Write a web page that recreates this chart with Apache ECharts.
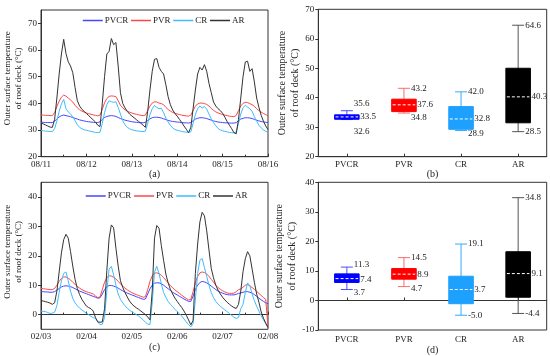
<!DOCTYPE html>
<html><head><meta charset="utf-8">
<script src="https://cdn.jsdelivr.net/npm/echarts@6/dist/echarts.min.js"></script>
<style>html,body{margin:0;padding:0;background:#fff}#c{width:550px;height:356px}</style>
</head><body><div id="c"></div>
<script>
// ---------------- DATA ----------------
const days = [
 0,0.05,0.1,0.15,0.2,0.25,0.3,0.35,0.4,0.45,0.5,0.55,0.6,0.65,0.7,0.75,0.8,0.85,0.9,0.95,
 1,1.05,1.1,1.15,1.2,1.25,1.3,1.35,1.4,1.45,1.5,1.55,1.6,1.65,1.7,1.75,1.8,1.85,1.9,1.95,
 2,2.05,2.1,2.15,2.2,2.25,2.3,2.35,2.4,2.45,2.5,2.55,2.6,2.65,2.7,2.75,2.8,2.85,2.9,2.95,
 3,3.05,3.1,3.15,3.2,3.25,3.3,3.35,3.4,3.45,3.5,3.55,3.6,3.65,3.7,3.75,3.8,3.85,3.9,3.95,
 4,4.05,4.1,4.15,4.2,4.25,4.3,4.35,4.4,4.45,4.5,4.55,4.6,4.65,4.7,4.75,4.8,4.85,4.9,4.95,5];

const xTickLabelsA = ['08/11','08/12','08/13','08/14','08/15','08/16'];
const xTickLabelsC = ['02/03','02/04','02/05','02/06','02/07','02/08'];
const yTicksA = [20,30,40,50,60,70];
const yTicksC = [0,10,20,30,40];
const seriesNames = ['PVCR','PVR','CR','AR'];
const boxCategories = ['PVCR','PVR','CR','AR'];

// (a) summer, outer surface temperature (°C)
const summerPVCR = [
 32.9,32.9,32.8,32.8,32.8,32.8,33.3,34.2,34.9,35.4,35.6,35.4,35.2,35.0,34.7,34.4,34.1,33.8,33.6,33.4,
 33.2,33.1,33.0,32.9,32.8,32.8,33.1,34.0,34.7,35.1,35.3,35.4,35.3,35.1,34.7,34.3,34.0,33.7,33.5,33.3,
 33.1,33.0,32.9,32.8,32.8,32.7,32.9,33.6,34.2,34.6,34.8,34.8,34.7,34.5,34.2,33.9,33.6,33.4,33.2,33.1,
 33.0,32.9,32.8,32.7,32.7,32.6,32.8,33.5,34.1,34.4,34.6,34.6,34.5,34.3,34.0,33.7,33.4,33.2,33.0,32.9,
 32.8,32.7,32.7,32.6,32.6,32.6,32.8,33.5,34.1,34.4,34.6,34.6,34.5,34.3,34.0,33.7,33.4,33.2,33.0,32.9,32.8];
const summerPVR = [
 35.6,35.6,35.5,35.5,35.4,35.4,36.5,38.8,40.8,42.3,43.1,42.7,42.0,41.3,40.5,39.3,38.3,37.6,37.1,36.7,
 36.4,36.1,35.9,35.7,35.5,35.3,35.6,37.8,40.2,41.8,42.6,42.8,42.7,42.5,41.0,39.3,38.3,37.6,37.1,36.7,
 36.4,36.1,35.9,35.7,35.5,35.4,35.6,37.3,39.0,40.1,40.6,40.5,40.1,39.9,39.5,38.5,37.7,37.1,36.6,36.3,
 36.0,35.8,35.6,35.4,35.3,35.2,35.6,37.3,38.9,39.8,40.1,40.1,39.9,39.6,39.0,38.1,37.4,36.8,36.4,36.1,
 35.8,35.6,35.4,35.2,35.1,35.0,35.5,37.3,39.0,40.0,40.4,40.3,39.9,39.5,38.9,38.0,37.3,36.7,36.2,35.8,35.3];
const summerCR = [
 29.8,29.7,29.6,29.5,29.5,29.4,30.5,33.5,37.0,39.8,41.5,38.0,36.8,36.0,35.0,33.5,32.0,31.0,30.5,30.1,
 29.9,29.7,29.5,29.3,29.1,29.0,29.2,32.5,36.5,39.5,41.0,40.6,40.4,40.6,38.5,36.0,33.5,32.0,31.0,30.5,
 30.1,29.9,29.7,29.6,29.5,29.4,29.6,32.5,35.8,38.0,39.2,38.5,38.0,38.2,36.5,34.5,33.0,31.8,30.8,30.2,
 29.9,29.7,29.5,29.3,29.2,29.1,29.3,32.5,35.8,38.0,39.0,38.2,38.8,37.8,36.0,34.2,32.8,31.6,30.6,30.0,
 29.7,29.5,29.3,29.1,29.0,28.9,29.3,32.5,36.0,38.3,39.3,38.6,38.0,37.0,35.0,33.3,31.8,30.8,30.0,29.5,29.2];
const summerAR = [
 32.6,32.3,31.9,31.5,31.1,31.0,34.0,42.0,51.0,58.5,64.0,58.7,55.6,54.0,51.5,46.0,41.0,39.0,37.8,37.0,
 36.2,35.4,34.6,33.8,33.0,31.8,31.3,40.0,50.0,58.5,59.5,64.3,62.0,62.8,54.0,44.0,40.0,38.3,37.0,36.0,
 35.3,34.6,33.9,33.2,32.5,31.8,31.0,37.0,45.0,52.0,56.5,56.8,53.5,52.0,51.0,47.0,42.5,39.5,37.5,36.2,
 35.2,34.0,32.8,31.5,30.3,29.0,31.0,38.0,45.0,51.0,53.5,52.5,54.5,52.0,47.5,44.0,40.5,39.0,38.0,37.3,
 36.3,34.8,33.2,31.8,30.5,29.0,28.6,34.0,42.0,50.0,55.5,55.8,52.0,53.0,48.0,42.0,38.5,35.5,33.3,31.5,30.2];

// (c) winter, outer surface temperature (°C)
const winterPVCR = [
 7.8,7.8,7.7,7.7,7.6,7.6,7.8,8.3,8.9,9.4,9.7,9.8,9.7,9.5,9.2,8.8,8.4,8.0,7.7,7.4,
 7.1,6.8,6.5,6.2,5.9,5.6,5.7,7.0,8.5,9.5,9.9,9.9,9.7,9.4,9.0,8.5,8.1,7.7,7.3,7.0,
 6.7,6.4,6.1,5.8,5.5,5.2,5.3,7.0,8.8,10.0,10.7,10.8,10.8,10.5,10.0,9.4,8.8,8.2,7.6,7.1,
 6.7,6.2,5.8,5.3,4.9,4.5,4.5,6.3,8.5,10.0,10.9,11.3,11.1,10.8,10.3,9.7,9.1,8.5,8.0,7.6,
 7.3,7.0,6.8,6.7,6.7,6.7,6.9,7.2,7.4,7.6,7.8,7.8,7.6,7.3,6.8,6.2,5.6,5.0,4.5,4.0,3.7];
const winterPVR = [
 8.9,8.8,8.7,8.6,8.5,8.5,8.9,10.0,11.3,12.3,12.8,12.8,12.4,11.8,11.0,10.3,9.6,9.0,8.5,8.1,
 7.8,7.5,7.3,7.0,6.3,5.8,6.0,8.5,11.0,12.6,13.2,13.1,12.7,12.1,11.3,10.5,9.7,9.0,8.4,7.9,
 7.5,7.1,6.8,6.5,6.2,5.9,6.1,8.5,11.3,13.2,14.1,14.2,13.9,13.4,12.6,11.7,10.8,9.9,9.1,8.4,
 7.8,7.2,6.6,6.0,5.5,5.0,5.2,7.8,10.8,13.0,14.2,14.5,14.3,13.8,13.0,12.0,11.0,10.0,9.2,8.6,
 8.1,7.7,7.4,7.2,7.2,7.3,7.8,8.5,8.7,9.3,10.0,10.2,9.8,9.2,8.6,7.9,7.2,6.5,5.8,5.2,-4.2];
const winterCR = [
 1.2,1.1,1.0,0.7,0.4,0.5,0.8,3.0,7.5,11.5,14.0,14.5,11.5,8.0,5.5,4.0,3.0,2.2,1.6,1.0,
 0.5,0.0,-0.6,-1.0,-1.3,-2.5,-3.4,-3.3,-1.0,8.0,15.5,16.4,13.5,10.0,7.0,5.2,4.0,3.0,2.2,1.5,
 1.0,0.5,0.0,-0.5,-1.1,-1.8,-2.6,-3.2,-3.4,4.0,14.5,16.4,14.0,10.5,7.5,5.8,4.5,3.5,2.7,1.8,
 1.0,0.3,-0.5,-1.5,-2.5,-3.4,-4.2,-3.0,5.0,14.0,18.5,19.1,16.0,13.0,10.0,7.5,5.8,4.5,3.6,2.8,
 2.2,1.6,1.0,0.4,-0.3,-0.9,-1.3,-1.0,2.0,3.5,7.5,10.8,9.8,7.0,4.8,2.8,1.2,-0.4,-1.8,-3.0,-4.5];
const winterAR = [
 4.8,4.6,4.4,4.2,3.9,3.5,4.0,8.0,14.5,21.0,25.5,27.3,26.0,21.5,16.5,12.0,8.9,6.8,5.2,4.0,
 2.9,2.4,2.0,1.2,-1.0,-2.5,-2.6,-2.5,2.0,15.0,26.0,30.5,29.5,22.6,16.5,11.5,9.3,7.5,6.0,4.6,
 3.6,2.9,2.3,1.8,1.2,0.6,0.0,-0.8,-1.8,8.0,26.0,30.3,29.4,23.5,18.5,13.8,10.8,8.6,7.0,5.6,
 4.5,3.4,2.4,1.2,-0.2,-1.8,-3.5,-2.0,14.0,24.0,31.5,34.8,33.6,28.5,22.0,15.7,12.5,10.0,8.3,7.0,
 5.9,5.0,4.2,3.5,2.9,2.4,2.1,3.5,8.0,14.6,19.0,21.4,20.0,15.5,11.0,7.0,4.2,0.9,-1.2,-2.9,-4.4];

// box statistics: [min, Q1, median, Q3, max]
const summerBoxPVCR = [32.6, 32.7, 33.5, 34.2, 35.6];
const summerBoxPVR  = [34.8, 35.3, 37.6, 39.5, 43.2];
const summerBoxCR   = [28.9, 29.3, 32.8, 37.0, 42.0];
const summerBoxAR   = [28.5, 31.5, 40.3, 50.0, 64.6];
const winterBoxPVCR = [3.7, 6.1, 7.4, 9.0, 11.3];
const winterBoxPVR  = [4.7, 7.2, 8.9, 10.8, 14.5];
const winterBoxCR   = [-5.0, -1.1, 3.7, 8.2, 19.1];
const winterBoxAR   = [-4.4, 1.1, 9.1, 16.5, 34.8];

// ---------------- STYLE ----------------
const FONT = 'Liberation Serif';
const TXT = '#222';
const AX = '#333';
const lineColors = ['#4646ff', '#ff4646', '#3cbcff', '#333333'];
const boxFill = ['#0000ff', '#ff0000', '#1ea0ff', '#000000'];
const whiskerCol = ['#4d4dff', '#ff6b6b', '#33aaff', '#555555'];
// label vertical nudges [max, median, min] in px
const labelNudgeB = [[-7, 0, 12], [0, 0, 5], [0, 0, 3], [0, 0, 0]];
const labelNudgeD = [[-2, 1, 3], [0, 0, 2], [0, 0, 0], [0, 0, 0]];

const chart = echarts.init(document.getElementById('c'), null, {renderer: 'canvas'});

const grids = [
  {left: 41, top: 10, width: 227, height: 146.7},
  {left: 318.3, top: 9.3, width: 228.4, height: 147.4},
  {left: 41, top: 182.3, width: 227, height: 147},
  {left: 318.3, top: 182.3, width: 228.4, height: 147.7}
].map(g => Object.assign(g, {show: true, borderColor: AX, borderWidth: 1, backgroundColor: 'transparent'}));

const yName = 'Outer surface temperature\nof roof deck (°C)';

function timeX(gi, labels, cap, margin) {
  return {
    type: 'value', gridIndex: gi, min: 0, max: 5, interval: 1,
    axisLine: {show: true, lineStyle: {color: AX, width: 1}},
    axisTick: {show: true, inside: true, length: 3, lineStyle: {color: AX}},
    minorTick: {show: true, splitNumber: 2, length: 2, lineStyle: {color: AX}},
    splitLine: {show: false}, minorSplitLine: {show: false},
    axisLabel: {formatter: v => labels[Math.round(v)], fontFamily: FONT, fontSize: 9, color: TXT, margin: margin},
    name: cap, nameLocation: 'middle', nameGap: 12,
    nameTextStyle: {fontFamily: FONT, fontSize: 10, color: TXT}
  };
}
function catX(gi, cap, margin) {
  return {
    type: 'category', gridIndex: gi, data: boxCategories,
    axisLine: {show: true, lineStyle: {color: AX, width: 1}},
    axisTick: {show: true, inside: true, length: 3, alignWithLabel: true, lineStyle: {color: AX}},
    splitLine: {show: false},
    axisLabel: {fontFamily: FONT, fontSize: 9, color: TXT, margin: margin},
    name: cap, nameLocation: 'middle', nameGap: 12,
    nameTextStyle: {fontFamily: FONT, fontSize: 10, color: TXT}
  };
}
function valY(gi, min, max, interval, ticks, nameSize, pad, gap) {
  const ax = {
    type: 'value', gridIndex: gi, min: min, max: max,
    axisLine: {show: true, lineStyle: {color: AX, width: 1}},
    axisTick: {show: true, inside: false, length: 3, lineStyle: {color: AX}},
    splitLine: {show: false},
    axisLabel: {fontFamily: FONT, fontSize: 9, color: TXT, margin: 4},
    name: yName, nameLocation: 'middle', nameGap: gap,
    nameTextStyle: {fontFamily: FONT, fontSize: nameSize, lineHeight: nameSize * 1.25, color: TXT, padding: pad}
  };
  if (ticks) {
    ax.axisLabel.customValues = ticks;
    ax.axisTick.customValues = ticks;
  } else {
    ax.interval = interval;
  }
  return ax;
}

function lineSeries(gi, arrays) {
  return arrays.map((arr, k) => ({
    type: 'line', name: seriesNames[k], xAxisIndex: gi, yAxisIndex: gi,
    data: days.map((d, i) => [d, arr[i]]),
    symbol: 'none', showSymbol: false, smooth: false,
    lineStyle: {color: lineColors[k], width: 1}, itemStyle: {color: lineColors[k]},
    z: 2 + k
  }));
}

function boxRender(nudges) {
  return function (params, api) {
    const i = api.value(0);
    const vals = [1, 2, 3, 4, 5].map(k => api.value(k));
    const pts = vals.map(v => api.coord([i, v]));
    const x = pts[0][0];
    const bw = api.size([1, 0])[0] * 0.43;
    const cap = 6;
    const yMin = pts[0][1], yQ1 = pts[1][1], yMed = pts[2][1], yQ3 = pts[3][1], yMax = pts[4][1];
    const wc = whiskerCol[i], bc = boxFill[i], nd = nudges[i];
    const ts = {fontFamily: FONT, fontSize: 9, fill: TXT, align: 'left', verticalAlign: 'middle'};
    return {
      type: 'group', children: [
        {type: 'line', shape: {x1: x, y1: yMax, x2: x, y2: yMin}, style: {stroke: wc, lineWidth: 1}},
        {type: 'line', shape: {x1: x - cap, y1: yMax, x2: x + cap, y2: yMax}, style: {stroke: wc, lineWidth: 1}},
        {type: 'line', shape: {x1: x - cap, y1: yMin, x2: x + cap, y2: yMin}, style: {stroke: wc, lineWidth: 1}},
        {type: 'rect', shape: {x: x - bw / 2, y: yQ3, width: bw, height: yQ1 - yQ3}, style: {fill: bc, stroke: bc, lineWidth: 1}},
        {type: 'line', shape: {x1: x - bw / 2 + 1, y1: yMed, x2: x + bw / 2 - 1, y2: yMed}, style: {stroke: '#fff', lineWidth: 1, lineDash: [3, 2]}},
        {type: 'text', style: Object.assign({x: x + cap + 1, y: yMax + nd[0], text: vals[4].toFixed(1)}, ts)},
        {type: 'text', style: Object.assign({x: x + bw / 2 + 1, y: yMed + nd[1], text: vals[2].toFixed(1)}, ts)},
        {type: 'text', style: Object.assign({x: x + cap + 1, y: yMin + nd[2], text: vals[0].toFixed(1)}, ts)}
      ]
    };
  };
}

const summerBoxes = [summerBoxPVCR, summerBoxPVR, summerBoxCR, summerBoxAR];
const winterBoxes = [winterBoxPVCR, winterBoxPVR, winterBoxCR, winterBoxAR];

function legendAt(top, left) {
  return {
    top: top, left: left, orient: 'horizontal', data: seriesNames,
    itemWidth: 20, itemHeight: 10, itemGap: 2,
    textStyle: {fontFamily: FONT, fontSize: 9, color: TXT, padding: [0, 0, 0, -3]},
    itemStyle: {opacity: 0},
    lineStyle: {width: 1.5}, selectedMode: false
  };
}

const option = {
  animation: false,
  backgroundColor: '#fff',
  grid: grids,
  legend: [legendAt(11, 77), legendAt(186.5, 80)],
  xAxis: [
    timeX(0, xTickLabelsA, '(a)', 3),
    catX(1, '(b)', 3),
    timeX(2, xTickLabelsC, '(c)', 3),
    catX(3, '(d)', 5)
  ],
  yAxis: [
    valY(0, 20, 75, null, yTicksA, 9, [0, 0, 0, 10], 11),
    valY(1, 20, 70, 10, null, 10, [0, 0, 0, 0], 9),
    valY(2, -5, 45, null, yTicksC, 9, [0, 0, 0, 8], 11),
    valY(3, -10, 40, 10, null, 10, [0, 0, 0, 0], 9)
  ],
  series: [
    ...lineSeries(0, [summerPVCR, summerPVR, summerCR, summerAR]),
    ...lineSeries(2, [winterPVCR, winterPVR, winterCR, winterAR]),
    {
      type: 'custom', xAxisIndex: 1, yAxisIndex: 1,
      renderItem: boxRender(labelNudgeB),
      encode: {x: 0, y: [1, 2, 3, 4, 5]},
      data: summerBoxes.map((s, i) => [i].concat(s))
    },
    {
      type: 'custom', xAxisIndex: 3, yAxisIndex: 3,
      renderItem: boxRender(labelNudgeD),
      encode: {x: 0, y: [1, 2, 3, 4, 5]},
      data: winterBoxes.map((s, i) => [i].concat(s))
    }
  ]
};
chart.setOption(option);
</script>
</body></html>
